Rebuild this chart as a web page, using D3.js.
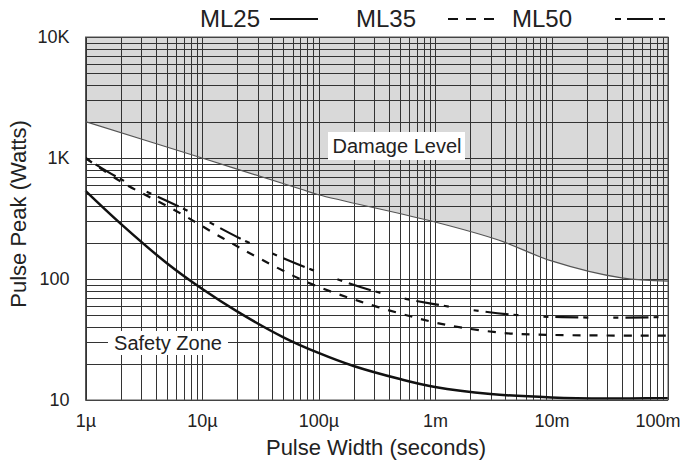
<!DOCTYPE html>
<html lang="en">

<head>
    <meta charset="UTF-8">
    <title>Pulse Peak vs Pulse Width</title>
    <script src="https://d3js.org/d3.v7.min.js"></script>
    <style>
        body {
            margin: 0;
            background: #fff;
        }

        text {
            font-family: "Liberation Sans", Arial, Helvetica, sans-serif;
            fill: #222;
        }

        .grid line {
            stroke: #333;
            stroke-width: 1px;
        }
    </style>
</head>

<body>
    <script>
        // pulse width (s) / peak power (W)
        var damage = [[1e-6, 2000], [1e-5, 1000], [7e-5, 554], [1e-4, 497], [1e-3, 296], [3.5e-3, 210], [1e-2, 141], [4e-2, 102], [0.1, 96]];
        var ml25 = [[1e-6, 535], [2e-6, 287], [5e-6, 135], [1e-5, 83], [2e-5, 54], [5e-5, 33], [1e-4, 24.5], [2e-4, 19.1], [5e-4, 14.9], [1e-3, 12.8], [3e-3, 11.2], [1e-2, 10.5], [3e-2, 10.3], [0.1, 10.4]];
        var ml35 = [[1e-6, 1000], [2e-6, 640], [6e-6, 365], [1.5e-5, 218], [3.2e-5, 146], [8.2e-5, 93], [2.3e-4, 65], [6.5e-4, 48.5], [1.26e-3, 41.7], [3.9e-3, 35.8], [1e-2, 34.5], [0.1, 34]];
        var ml50 = [[1e-6, 1000], [2e-6, 670], [7e-6, 379], [2.46e-5, 202], [8.8e-5, 119], [3.2e-4, 78], [9.8e-4, 62], [5e-3, 50.4], [2.2e-2, 48], [0.1, 48.5]];

        var xTicks = [1e-6, 1e-5, 1e-4, 1e-3, 1e-2, 1e-1];
        var xTickLabels = ["1µ", "10µ", "100µ", "1m", "10m", "100m"];
        var yTicks = [10, 100, 1000, 10000];
        var yTickLabels = ["10", "100", "1K", "10K"];

        var width = 689,
            height = 473;
        // plot box (note: "top" is taken by window.top)
        var pLeft = 85.5,
            pRight = 668,
            pTop = 37,
            pBottom = 400;

        var svg = d3.select("body").append("svg")
            .attr("width", width)
            .attr("height", height);

        var x = d3.scaleLog().domain([1e-6, 0.1]).range([pLeft, pRight]);
        var y = d3.scaleLog().domain([10, 10000]).range([pBottom, pTop]);

        // shaded damage region above the damage curve
        var area = d3.area()
            .x(d => x(d[0]))
            .y0(pTop)
            .y1(d => y(d[1]))
            .curve(d3.curveCatmullRom);

        svg.append("path")
            .datum(damage)
            .attr("d", area)
            .attr("fill", "#d9d9d9");

        // log grid
        var grid = svg.append("g").attr("class", "grid");
        grid.selectAll(".vx")
            .data(x.ticks())
            .enter().append("line")
            .attr("x1", d => Math.round(x(d)) + 0.5)
            .attr("x2", d => Math.round(x(d)) + 0.5)
            .attr("y1", pTop)
            .attr("y2", pBottom);
        grid.selectAll(".hy")
            .data(y.ticks())
            .enter().append("line")
            .attr("x1", pLeft)
            .attr("x2", pRight)
            .attr("y1", d => Math.round(y(d)) + 0.5)
            .attr("y2", d => Math.round(y(d)) + 0.5);

        var line = d3.line()
            .x(d => x(d[0]))
            .y(d => y(d[1]))
            .curve(d3.curveCatmullRom);

        svg.append("path")
            .datum(damage)
            .attr("d", line)
            .attr("fill", "none")
            .attr("stroke", "#555")
            .attr("stroke-width", 1.2);

        // label boxes knock out the grid
        svg.append("rect")
            .attr("x", 328).attr("y", 132).attr("width", 137).attr("height", 28)
            .attr("fill", "#fff");
        svg.append("text")
            .attr("x", 397).attr("y", 153)
            .attr("text-anchor", "middle")
            .style("font-size", "20px")
            .text("Damage Level");

        svg.append("rect")
            .attr("x", 108).attr("y", 331).attr("width", 120).attr("height", 24)
            .attr("fill", "#fff");
        svg.append("text")
            .attr("x", 168).attr("y", 350)
            .attr("text-anchor", "middle")
            .style("font-size", "20px")
            .text("Safety Zone");

        svg.append("path")
            .datum(ml50)
            .attr("d", line)
            .attr("fill", "none")
            .attr("stroke", "#111")
            .attr("stroke-width", 2.2)
            .attr("stroke-dasharray", "5,7,23,5,5,25");

        svg.append("path")
            .datum(ml35)
            .attr("d", line)
            .attr("fill", "none")
            .attr("stroke", "#111")
            .attr("stroke-width", 2.2)
            .attr("stroke-dasharray", "8,9");

        svg.append("path")
            .datum(ml25)
            .attr("d", line)
            .attr("fill", "none")
            .attr("stroke", "#111")
            .attr("stroke-width", 2.5);

        // frame
        svg.append("rect")
            .attr("x", pLeft).attr("y", pTop)
            .attr("width", pRight - pLeft).attr("height", pBottom - pTop)
            .attr("fill", "none")
            .attr("stroke", "#555")
            .attr("stroke-width", 1);

        // axes
        var xAxis = svg.append("g")
            .attr("transform", `translate(0,${pBottom})`)
            .call(d3.axisBottom(x).tickValues(xTicks).tickFormat((d, i) => xTickLabels[i]).tickSize(0).tickPadding(14));
        xAxis.select(".domain").remove();
        xAxis.selectAll("text").style("font-size", "18px").attr("fill", "#222");
        // last label would run off the right edge
        xAxis.selectAll("text").filter((d, i) => i === xTicks.length - 1)
            .attr("text-anchor", "end")
            .attr("dx", 12);

        var yAxis = svg.append("g")
            .attr("transform", `translate(${pLeft},0)`)
            .call(d3.axisLeft(y).tickValues(yTicks).tickFormat((d, i) => yTickLabels[i]).tickSize(0).tickPadding(16));
        yAxis.select(".domain").remove();
        yAxis.selectAll("text").style("font-size", "18px").attr("fill", "#222");

        svg.append("text")
            .attr("x", 376).attr("y", 455)
            .attr("text-anchor", "middle")
            .style("font-size", "22px")
            .text("Pulse Width (seconds)");

        svg.append("text")
            .attr("transform", "translate(26,214) rotate(-90)")
            .attr("text-anchor", "middle")
            .style("font-size", "22px")
            .text("Pulse Peak (Watts)");

        // legend along the top
        var legend = [
            { name: "ML25", tx: 200, lx: 270, lw: 48, dash: null },
            { name: "ML35", tx: 356, lx: 448, lw: 46, dash: "10,8" },
            { name: "ML50", tx: 512, lx: 615, lw: 50, dash: "6,6,26,6,6,50" }
        ];
        legend.forEach(function(l) {
            svg.append("text")
                .attr("x", l.tx).attr("y", 27)
                .style("font-size", "24px")
                .text(l.name);
            svg.append("line")
                .attr("x1", l.lx).attr("x2", l.lx + l.lw)
                .attr("y1", 19).attr("y2", 19)
                .attr("stroke", "#111")
                .attr("stroke-width", 2.2)
                .attr("stroke-dasharray", l.dash);
        });
    </script>
</body>

</html>
